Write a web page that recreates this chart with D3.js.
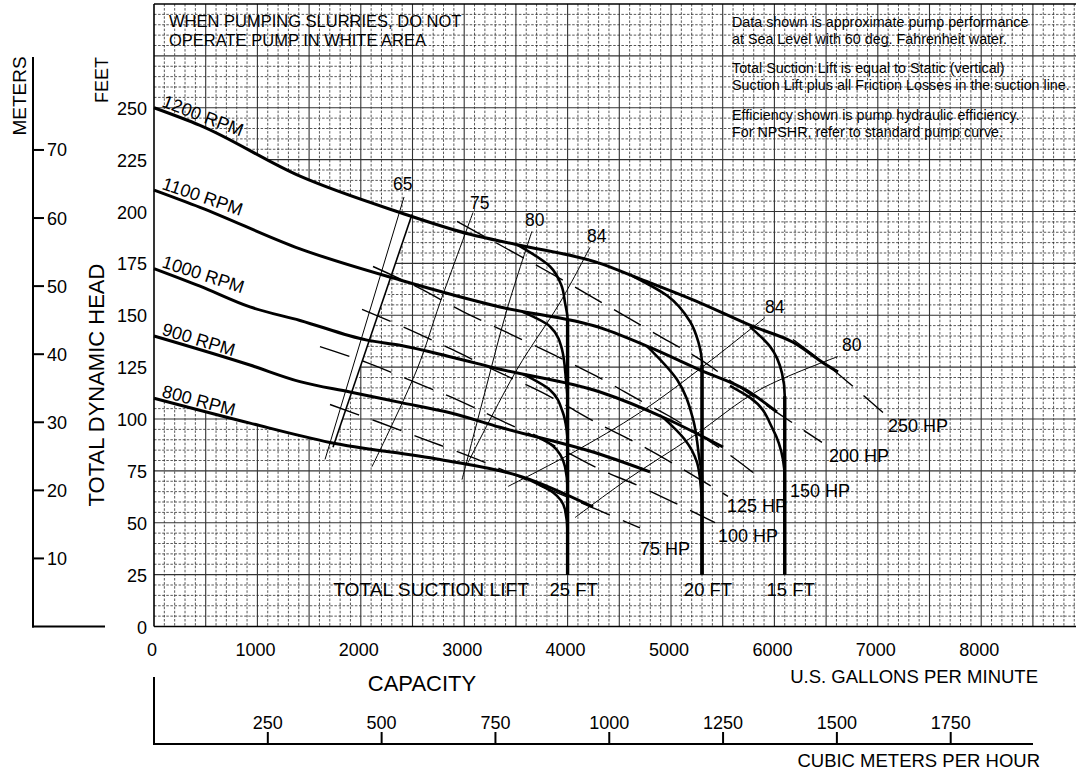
<!DOCTYPE html>
<html><head><meta charset="utf-8">
<script src="https://cdn.jsdelivr.net/npm/d3@7"></script>
<style>
html,body{margin:0;padding:0;background:#fff;}
svg{display:block;font-family:"Liberation Sans",Arial,Helvetica,sans-serif;}
</style></head><body>
<svg id="chart" width="1076" height="771"></svg>
<script>
// ---------------- DATA (GPM, feet) ----------------
const gpmTicks=[0,1000,2000,3000,4000,5000,6000,7000,8000];
const feetTicks=[0,25,50,75,100,125,150,175,200,225,250];
const meterTicks=[10,20,30,40,50,60,70];
const m3hTicks=[250,500,750,1000,1250,1500,1750];

const rpmNames=["1200 RPM","1100 RPM","1000 RPM","900 RPM","800 RPM"];
const rpm1200=[[0,250],[445,241.5],[1412,217],[2379,199.5],[3056,189],[3511,184],[4314,175],[4700,167.5],[5281,156],[5793,144.6],[6180,137],[6504,126],[6615,122.7]];
const rpm1100=[[0,210.3],[445,202],[1412,182],[2379,167],[3346,154],[4314,144],[4797,134.5],[5281,123.6],[5735,113.7],[6025,103.4]];
const rpm1000=[[0,172.5],[445,164],[928,154],[1412,147.5],[2060,138],[2379,135.5],[2863,130],[3346,124],[4314,113],[4961,100],[5503,86.5]];
const rpm900=[[0,140],[928,126],[1412,118],[1895,113],[2379,108],[2863,103],[3346,96],[4314,83],[4797,74.5]];
const rpm800=[[0,110],[928,98],[1702,88.7],[2766,80.5],[3569,72],[4246,57.6]];

// suction-lift limited curves (bend off each RPM curve into a vertical)
const liftNames=["25 FT","20 FT","15 FT"];
const liftGpm=[4000,5300,6100];
const liftTop=[148,126,111];
const lift25_1200=[[3511,184],[3830,173.5],[3943,164],[3975,156],[4000,148],[4000,25]];
const lift25_1100=[[3569,151.5],[3830,144.6],[3946,133.5],[3984,119],[4000,108],[4000,25]];
const lift25_1000=[[3569,121.6],[3830,114],[3955,103],[3990,95],[4000,88],[4000,25]];
const lift25_900=[[3665,92.5],[3859,87],[3975,77],[4000,66],[4000,25]];
const lift25_800=[[3607,71.2],[3859,64.6],[3975,56.4],[4000,45],[4000,25]];
const lift20_1200=[[4633,168.8],[4961,159.5],[5184,147],[5265,137],[5300,126],[5300,25]];
const lift20_1100=[[4769,135],[5058,119],[5213,100],[5271,82],[5300,71],[5300,25]];
const lift20_1000=[[4922,100.8],[5135,90],[5252,79],[5288,67.5],[5300,58],[5300,25]];
const lift15_1200=[[5764,144.4],[5957,135],[6074,122],[6100,111],[6100,25]];
const lift15_1100=[[5570,116],[5764,110.3],[5986,95],[6083,80.5],[6100,71],[6100,25]];

// efficiency lines (%)
const effNames=["65","75","80","84","84","80"];
const eff65=[[2418,207],[1654,80.5]];
const eff75=[[3085,199.5],[2766,156],[2544,124],[2108,77]];
const eff80a=[[3655,190.4],[3414,152.8],[3182,109.4],[2979,70.8]];
const eff84a=[[4216,182.7],[3926,156.1],[3511,123.9],[3037,79]];
const eff84b=[[5909,148.9],[5310,125.3],[4700,103.1],[4053,83.9],[3424,67.5]];
const eff80b=[[6615,130.1],[5861,114.2],[5212,91.6],[4575,70.8],[4072,52.5]];
// edge of the white (do not operate) area
const whiteEdge=[[2495,198.5],[1731,86.4]];

// horsepower lines
const hpNames=["75 HP","100 HP","125 HP","150 HP","200 HP","250 HP"];
const hp75=[[1702,107],[2156,98.8],[2621,90.1],[3085,81.4],[3520,72.3],[3965,63.1],[4700,47.5]];
const hp100=[[1605,134.9],[2060,127.2],[2505,118.1],[2950,108.9],[3375,98.8],[3811,88.7],[4314,75.7],[4700,67.5],[5426,50.1]];
const hp125=[[2012,152.8],[2447,143.6],[2882,133.5],[3317,122.9],[3753,112.8],[4314,97.3],[4603,90.1],[5019,78.6],[5551,62.7]];
const hp150=[[2118,173.5],[2553,163.4],[2988,151.8],[3414,141.7],[3859,131.1],[4284,120.5],[4720,108.4],[4990,101.2],[5542,83.6],[5793,74.2]];
const hp200=[[2930,195.2],[3636,175.9],[4314,156.6],[4894,139.8],[5281,128.7],[5696,114.2],[6460,88.7]];
const hp250=[[6180,138.3],[6576,123.4],[7050,103.1]];

const noteLeft=["WHEN PUMPING SLURRIES, DO NOT","OPERATE PUMP IN WHITE AREA"];
const noteRight=["Data shown is approximate pump performance","at Sea Level with 60 deg. Fahrenheit water.",
 "Total Suction Lift is equal to Static (vertical)","Suction Lift plus all Friction Losses in the suction line.",
 "Efficiency shown is pump hydraulic efficiency.","For NPSHR, refer to standard pump curve."];

// ---------------- LAYOUT ----------------
const FT_PER_M=3.28084, GPM_PER_M3H=4.402868;
const L=154, R=1076, T=4, B=626.5;
const x=d3.scaleLinear().domain([0,9000]).range([L,L+9000*0.1034]);
const y=d3.scaleLinear().domain([0,300]).range([B,T]);
const rpmAngles=[21,19,18,17,15];
const hpOff=[[0,27],[3,19],[-1,16],[37,24],[7,20],[5,19]];
const effOff=[[-11,-7],[-3,-4],[-7,-5],[-3,-5],[0,-5],[4,-6]];

const svg=d3.select("#chart");

// ---------------- CURVE GENERATORS ----------------
const lineX=d3.line().x(d=>x(d[0])).y(d=>y(d[1])).curve(d3.curveMonotoneX);
const lineY=d3.line().x(d=>x(d[0])).y(d=>y(d[1])).curve(d3.curveMonotoneY);
const lineC=d3.line().x(d=>x(d[0])).y(d=>y(d[1])).curve(d3.curveCatmullRom.alpha(0.5));

// same monotone-X spline as d3.curveMonotoneX, evaluated in pixel space
function monoX(data){
  const xs=data.map(d=>x(d[0])), ys=data.map(d=>y(d[1])), n=xs.length, h=[], s=[], t=[];
  for(let i=0;i<n-1;i++){h[i]=xs[i+1]-xs[i];s[i]=(ys[i+1]-ys[i])/h[i];}
  for(let i=1;i<n-1;i++){
    const p=(s[i-1]*h[i]+s[i]*h[i-1])/(h[i-1]+h[i]);
    t[i]=(Math.sign(s[i-1])+Math.sign(s[i]))*Math.min(Math.abs(s[i-1]),Math.abs(s[i]),0.5*Math.abs(p))||0;
  }
  t[0]=(3*s[0]-t[1])/2; t[n-1]=(3*s[n-2]-t[n-2])/2;
  return px=>{
    let i=0; while(i<n-2&&px>xs[i+1]) i++;
    const u=(px-xs[i])/h[i], v=1-u, c0=ys[i]+h[i]/3*t[i], c1=ys[i+1]-h[i]/3*t[i+1];
    return v*v*v*ys[i]+3*v*v*u*c0+3*v*u*u*c1+u*u*u*ys[i+1];
  };
}

// white ("do not operate") region: per pixel column, the span between 1200 and 800 RPM left of the edge line
const [e1,e2]=whiteEdge;
const EX1=x(e1[0]),EY1=y(e1[1]),EX2=x(e2[0]),EY2=y(e2[1]);
const ek=(EY1-EY2)/(EX1-EX2);              // dy/dx of edge
const edgeY=px=>EY1+ek*(px-EX1);            // y on edge at column px
const f12=monoX(rpm1200), f8=monoX(rpm800);
const whiteSpans=[];
for(let px=L+0.5;px<EX1+1;px+=1){
  const y0=f12(px), y1=Math.min(f8(px),edgeY(px));
  if(y1>y0) whiteSpans.push([px,y0,y1]);
}

// ---------------- GRID (drawn only outside the white region) ----------------
const grid=svg.append("g");
const minorX=d3.range(100,9000,100).filter(v=>v%500!==0&&x(v)<R);
const minorY=d3.range(5,300,5).filter(v=>v%25!==0);
const majorX=d3.range(500,9000,500).filter(v=>x(v)<R);
const majorY=d3.range(25,300,25);
grid.selectAll(".mx").data(minorX).join("line").attr("x1",d=>x(d)).attr("x2",d=>x(d)).attr("y1",T).attr("y2",B)
  .attr("stroke","#111").attr("stroke-width",0.7).attr("stroke-dasharray","2.5,1.6");
grid.selectAll(".my").data(minorY).join("line").attr("y1",d=>y(d)).attr("y2",d=>y(d)).attr("x1",L).attr("x2",R)
  .attr("stroke","#111").attr("stroke-width",0.7).attr("stroke-dasharray","2.5,1.6");
grid.selectAll(".Mx").data(majorX).join("line").attr("x1",d=>x(d)).attr("x2",d=>x(d)).attr("y1",T).attr("y2",B)
  .attr("stroke","#333").attr("stroke-width",1.1);
grid.selectAll(".My").data(majorY).join("line").attr("y1",d=>y(d)).attr("y2",d=>y(d)).attr("x1",L).attr("x2",R)
  .attr("stroke","#333").attr("stroke-width",1.1);

const whiteLayer=svg.append("g");
whiteLayer.selectAll("line").data(whiteSpans).join("line")
  .attr("x1",d=>d[0]).attr("x2",d=>d[0]).attr("y1",d=>d[1]).attr("y2",d=>d[2])
  .attr("stroke","#ffffff").attr("stroke-width",1.3);

// ---------------- BORDERS ----------------
svg.append("line").attr("x1",L).attr("x2",R).attr("y1",T).attr("y2",T).attr("stroke","#000").attr("stroke-width",1.6);
svg.append("line").attr("x1",L).attr("x2",R).attr("y1",B).attr("y2",B).attr("stroke","#000").attr("stroke-width",1.6);
svg.append("line").attr("x1",L).attr("x2",L).attr("y1",T).attr("y2",B).attr("stroke","#000").attr("stroke-width",1.6);

// ---------------- LINES ----------------
const marks=svg.append("g");
const effs=[eff65,eff75,eff80a,eff84a,eff84b,eff80b];
effs.forEach(d=>marks.append("path").attr("d",lineC(d)).attr("fill","none").attr("stroke","#000").attr("stroke-width",1));
marks.append("path").attr("d",lineC(whiteEdge)).attr("fill","none").attr("stroke","#000").attr("stroke-width",1.6);
const hps=[hp75,hp100,hp125,hp150,hp200,hp250];
hps.forEach(d=>marks.append("path").attr("d",lineC(d)).attr("fill","none")
  .attr("stroke","#000").attr("stroke-width",1.4).attr("stroke-dasharray","31,14"));
const rpms=[rpm1200,rpm1100,rpm1000,rpm900,rpm800];
rpms.forEach(d=>marks.append("path").attr("d",lineX(d)).attr("fill","none").attr("stroke","#000").attr("stroke-width",3));
const lifts=[lift25_1200,lift25_1100,lift25_1000,lift25_900,lift25_800,lift20_1200,lift20_1100,lift20_1000,lift15_1200,lift15_1100];
lifts.forEach(d=>marks.append("path").attr("d",lineY(d)).attr("fill","none").attr("stroke","#000").attr("stroke-width",2.6));
liftGpm.forEach((g,i)=>marks.append("line").attr("x1",x(g)).attr("x2",x(g))
  .attr("y1",y(liftTop[i])).attr("y2",y(25)).attr("stroke","#000").attr("stroke-width",3.4));

// ---------------- LABELS ----------------
const txt=svg.append("g").attr("fill","#000");
rpms.forEach((c,i)=>{
  txt.append("text").attr("transform",`translate(${x(0)+7},${y(c[0][1])-1.5}) rotate(${rpmAngles[i]})`)
    .attr("font-size",18).text(rpmNames[i]);
});
effs.forEach((c,i)=>{
  txt.append("text").attr("x",x(c[0][0])+effOff[i][0]).attr("y",y(c[0][1])+effOff[i][1])
    .attr("font-size",17.5).text(effNames[i]);
});
hps.forEach((c,i)=>{
  const e=c[c.length-1];
  txt.append("text").attr("x",x(e[0])+hpOff[i][0]).attr("y",y(e[1])+hpOff[i][1])
    .attr("font-size",18).text(hpNames[i]);
});
liftGpm.forEach((g,i)=>{
  txt.append("text").attr("x",x(g)+6).attr("y",596).attr("text-anchor","middle").attr("font-size",18.5).text(liftNames[i]);
});
txt.append("text").attr("x",529).attr("y",596).attr("text-anchor","end").attr("font-size",19.2).text("TOTAL SUCTION LIFT");

noteLeft.forEach((s,i)=>txt.append("text").attr("x",169).attr("y",27+i*18.5).attr("font-size",16.5).text(s));
const nY=[27,44,73,90,120,137];
noteRight.forEach((s,i)=>txt.append("text").attr("x",732).attr("y",nY[i]).attr("font-size",14.3).text(s));

// feet axis
feetTicks.forEach(v=>txt.append("text").attr("x",147).attr("y",y(v)+7).attr("text-anchor","end").attr("font-size",18).text(v));
txt.append("text").attr("transform","translate(108,80) rotate(-90)").attr("text-anchor","middle").attr("font-size",18).text("FEET");
txt.append("text").attr("transform","translate(104,385) rotate(-90)").attr("text-anchor","middle").attr("font-size",22).text("TOTAL DYNAMIC HEAD");

// meters axis
const ax=svg.append("g").attr("stroke","#000").attr("stroke-width",2);
ax.append("line").attr("x1",33).attr("x2",33).attr("y1",57).attr("y2",B+1);
ax.append("line").attr("x1",32).attr("x2",105).attr("y1",B).attr("y2",B);
meterTicks.forEach(m=>{
  ax.append("line").attr("x1",33).attr("x2",44).attr("y1",y(m*FT_PER_M)).attr("y2",y(m*FT_PER_M));
  txt.append("text").attr("x",47).attr("y",y(m*FT_PER_M)+6.5).attr("font-size",18).text(m);
});
txt.append("text").attr("transform","translate(26,96) rotate(-90)").attr("text-anchor","middle").attr("font-size",19).text("METERS");

// GPM axis labels
gpmTicks.forEach(v=>txt.append("text").attr("x",x(v)-2).attr("y",656).attr("text-anchor","middle").attr("font-size",18).text(v));
txt.append("text").attr("x",422).attr("y",691).attr("text-anchor","middle").attr("font-size",22).text("CAPACITY");
txt.append("text").attr("x",1038).attr("y",683).attr("text-anchor","end").attr("font-size",18.5).text("U.S. GALLONS PER MINUTE");

// m3/h axis
ax.append("line").attr("x1",L).attr("x2",L).attr("y1",677).attr("y2",745);
ax.append("line").attr("x1",L-1).attr("x2",1033).attr("y1",744).attr("y2",744);
m3hTicks.forEach(v=>{
  const px=x(v*GPM_PER_M3H);
  ax.append("line").attr("x1",px).attr("x2",px).attr("y1",732).attr("y2",744);
  txt.append("text").attr("x",px).attr("y",729).attr("text-anchor","middle").attr("font-size",18).text(v);
});
txt.append("text").attr("x",1040).attr("y",767).attr("text-anchor","end").attr("font-size",18.5).text("CUBIC METERS PER HOUR");
</script>
</body></html>
